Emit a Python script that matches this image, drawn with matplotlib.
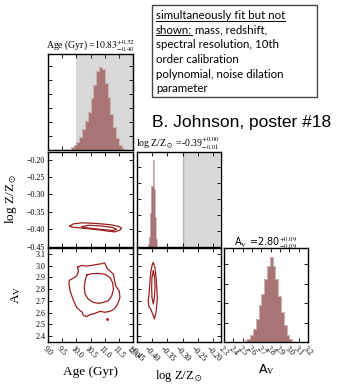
import numpy as np
import matplotlib
matplotlib.use("Agg")
import matplotlib.pyplot as plt
from matplotlib.ticker import MultipleLocator
from matplotlib.lines import Line2D
from matplotlib.patches import Rectangle

plt.rcParams['font.family'] = 'serif'
plt.rcParams['font.serif'] = ['Liberation Serif', 'DejaVu Serif']
plt.rcParams['mathtext.fontset'] = 'stix'

# ---------------- data ----------------
# marginal of Age (Gyr), peak normalised
age_edges = [9.4, 9.5, 9.6, 9.7, 9.8, 9.9, 10.0, 10.1, 10.2, 10.3, 10.4, 10.5, 10.6,
             10.7, 10.8, 10.9, 11.0, 11.1, 11.2, 11.3, 11.4, 11.5, 11.6, 11.7, 11.8]
age_hist = [0.006, 0.012, 0.017, 0.023, 0.047, 0.07, 0.105, 0.163, 0.256, 0.349, 0.465,
            0.628, 0.791, 0.953, 1.0, 0.977, 0.814, 0.64, 0.442, 0.279, 0.151, 0.07,
            0.035, 0.012]

# marginal of log Z/Zsun
logz_edges = [-0.414, -0.410, -0.406, -0.402, -0.398, -0.394, -0.390, -0.386, -0.382]
logz_hist = [0.03, 0.11, 0.39, 0.70, 1.0, 0.67, 0.34, 0.09]

# marginal of A_V
av_edges = [2.52, 2.55, 2.58, 2.61, 2.64, 2.67, 2.70, 2.73, 2.76, 2.79, 2.82, 2.85,
            2.88, 2.91, 2.94, 2.97, 3.00, 3.03, 3.06]
av_hist = [0.02, 0.03, 0.08, 0.15, 0.27, 0.43, 0.56, 0.74, 0.89, 1.0, 0.89, 0.74,
           0.54, 0.35, 0.2, 0.08, 0.03, 0.01]

# shaded prior regions
age_shade = (10.0, 12.0)
logz_shade = (-0.30, -0.177)

# contours: age vs log Z
az_outer_age = [9.777, 9.894, 10.19, 10.54, 10.89, 11.25, 11.48, 11.60, 11.54, 11.36,
                11.13, 10.78, 10.42, 10.07, 9.84, 9.777]
az_outer_z = [-0.391, -0.385, -0.382, -0.383, -0.385, -0.388, -0.392, -0.397, -0.403,
              -0.408, -0.406, -0.402, -0.399, -0.396, -0.394, -0.391]
az_inner_age = [10.19, 10.42, 10.89, 11.25, 11.42, 11.31, 11.01, 10.66, 10.31, 10.19]
az_inner_z = [-0.393, -0.389, -0.391, -0.395, -0.400, -0.404, -0.402, -0.399, -0.396,
              -0.393]

# contours: age vs A_V
aa_outer_age = [10.05, 10.19, 10.37, 10.54, 10.72, 10.89, 10.99, 11.04, 11.07, 11.19,
                11.31, 11.34, 11.39, 11.51, 11.54, 11.46, 11.34, 11.19, 11.01, 10.84,
                10.66, 10.48, 10.37, 10.25, 10.21, 10.13, 10.01, 9.93, 9.86, 9.78,
                9.74, 9.75, 9.89, 10.01, 10.07, 10.05]
aa_outer_av = [2.988, 3.002, 2.996, 3.002, 3.010, 3.016, 3.024, 3.005, 2.982, 2.954,
               2.926, 2.884, 2.827, 2.785, 2.729, 2.673, 2.631, 2.611, 2.603, 2.611,
               2.594, 2.583, 2.566, 2.575, 2.603, 2.617, 2.645, 2.687, 2.729, 2.785,
               2.842, 2.875, 2.892, 2.912, 2.948, 2.988]
aa_inner_age = [10.37, 10.54, 10.78, 11.01, 11.19, 11.28, 11.31, 11.25, 11.13, 10.95,
                10.78, 10.60, 10.42, 10.31, 10.28, 10.31, 10.37]
aa_inner_av = [2.920, 2.931, 2.934, 2.926, 2.898, 2.856, 2.799, 2.743, 2.701, 2.687,
               2.679, 2.687, 2.715, 2.757, 2.813, 2.870, 2.920]
aa_dot = (11.07, 2.546)

# contours: log Z vs A_V
za_outer_z = [-0.3953, -0.3898, -0.3865, -0.3843, -0.3821, -0.3843, -0.3865, -0.392,
              -0.3975, -0.404, -0.4095, -0.4117, -0.4084, -0.4062, -0.403, -0.3986,
              -0.3953]
za_outer_av = [3.024, 2.982, 2.898, 2.813, 2.729, 2.659, 2.603, 2.547, 2.589, 2.631,
               2.650, 2.701, 2.785, 2.869, 2.954, 3.010, 3.024]
za_inner_z = [-0.3953, -0.3909, -0.3898, -0.392, -0.3953, -0.3997, -0.4008, -0.3997,
              -0.3953]
za_inner_av = [2.954, 2.898, 2.813, 2.729, 2.673, 2.729, 2.813, 2.898, 2.954]

titles = [r"Age (Gyr) =$10.83^{+0.32}_{-0.40}$",
          r"log Z/Z$_\odot$ =-0.39$^{+0.00}_{-0.01}$",
          r"A$_{\rm V}$ =2.80$^{+0.09}_{-0.09}$"]
note_lines = ["simultaneously fit but not", "shown:", "spectral resolution, 10th",
              "order calibration", "polynomial, noise dilation", "parameter"]
note_line2_rest = " mass, redshift,"
banner = "B. Johnson, poster #18"

# ---------------- layout ----------------
W, H = 362.0, 384.0
fig = plt.figure(figsize=(W / 100, H / 100), dpi=100)


def rect(x0, x1, y0, y1):
    return [x0 / W, 1 - y1 / H, (x1 - x0) / W, (y1 - y0) / H]


FILL = '#a87474'
EDGE = '#cbb3b3'
LINE = '#9a1f1f'
SHADE = '#d9d9d9'

age_lim = (9.0, 12.0)
z_lim = (-0.45, -0.177)
av_lim = (2.35, 3.15)
avh_lim = (2.3, 3.2)


def style(ax):
    ax.tick_params(direction='in', top=True, right=True, length=3, width=0.6,
                   labelsize=5.8, pad=2)
    for s in ax.spines.values():
        s.set_linewidth(1.0)


ax1 = fig.add_axes(rect(48, 133, 54, 150.5))
ax2 = fig.add_axes(rect(48, 133, 151.5, 246.5))
ax3 = fig.add_axes(rect(48, 133, 248, 342))
ax4 = fig.add_axes(rect(136.5, 220.5, 151.5, 246.5))
ax5 = fig.add_axes(rect(136.5, 220.5, 248, 342))
ax6 = fig.add_axes(rect(224, 308, 248, 342))
for a in (ax1, ax2, ax3, ax4, ax5, ax6):
    style(a)

# age marginal
ax1.axvspan(*age_shade, color=SHADE, lw=0, zorder=0)
ax1.stairs(age_hist, age_edges, fill=True, color=FILL, zorder=2)
ax1.stairs(age_hist, age_edges, color=EDGE, lw=0.8, zorder=3)
ax1.set_xlim(age_lim)
ax1.set_ylim(0, 1.16)
ax1.xaxis.set_major_locator(MultipleLocator(0.5))
ax1.yaxis.set_major_locator(MultipleLocator(0.17))
ax1.tick_params(labelbottom=False, labelleft=False)
ax1.set_title(titles[0], fontsize=7, pad=2)

# logZ marginal
ax4.axvspan(*logz_shade, color=SHADE, lw=0, zorder=0)
ax4.axvline(logz_shade[0], color='#b5b5b5', lw=1, zorder=1)
ax4.stairs(logz_hist, logz_edges, fill=True, color=FILL, zorder=2)
ax4.stairs(logz_hist, logz_edges, color=EDGE, lw=0.6, zorder=3)
ax4.set_xlim(z_lim)
ax4.set_ylim(0, 1.1)
ax4.xaxis.set_major_locator(MultipleLocator(0.05))
ax4.yaxis.set_major_locator(MultipleLocator(0.184))
ax4.tick_params(labelbottom=False, labelleft=False)
ax4.set_title(titles[1], fontsize=7, pad=2)

# A_V marginal
ax6.stairs(av_hist, av_edges, fill=True, color=FILL, zorder=2)
ax6.stairs(av_hist, av_edges, color=EDGE, lw=0.8, zorder=3)
ax6.set_xlim(avh_lim)
ax6.set_ylim(0, 1.1)
ax6.xaxis.set_major_locator(MultipleLocator(0.1))
ax6.yaxis.set_major_locator(MultipleLocator(0.228))
ax6.tick_params(labelleft=False)
ax6.tick_params(axis='x', labelrotation=-45)
ax6.set_title(titles[2], fontsize=7, pad=2, family='DejaVu Sans')
ax6.set_xlabel(r"A$_{\rm V}$", fontsize=9, family='DejaVu Sans')
ax6.xaxis.set_label_coords(0.5, -0.21)

# age vs logZ
ax2.plot(az_outer_age, az_outer_z, color=LINE, lw=0.9)
ax2.plot(az_inner_age, az_inner_z, color=LINE, lw=0.9)
ax2.set_xlim(age_lim)
ax2.set_ylim(z_lim)
ax2.xaxis.set_major_locator(MultipleLocator(0.5))
ax2.yaxis.set_major_locator(MultipleLocator(0.05))
ax2.tick_params(labelbottom=False)
ax2.set_ylabel(r"log Z/Z$_\odot$", fontsize=9.5)
ax2.yaxis.set_label_coords(-0.34, 0.5)

# age vs A_V
ax3.plot(aa_outer_age, aa_outer_av, color=LINE, lw=0.9)
ax3.plot(aa_inner_age, aa_inner_av, color=LINE, lw=0.9)
ax3.plot([aa_dot[0]], [aa_dot[1]], 'o', color=LINE, ms=1.0)
ax3.set_xlim(age_lim)
ax3.set_ylim(av_lim)
ax3.xaxis.set_major_locator(MultipleLocator(0.5))
ax3.yaxis.set_major_locator(MultipleLocator(0.1))
ax3.tick_params(axis='x', labelrotation=-45)
ax3.set_xlabel("Age (Gyr)", fontsize=9.5)
ax3.xaxis.set_label_coords(0.5, -0.255)
ax3.set_ylabel(r"A$_{\rm V}$", fontsize=9.5)
ax3.yaxis.set_label_coords(-0.29, 0.5)

# logZ vs A_V
ax5.plot(za_outer_z, za_outer_av, color=LINE, lw=0.9)
ax5.plot(za_inner_z, za_inner_av, color=LINE, lw=0.9)
ax5.set_xlim(z_lim)
ax5.set_ylim(av_lim)
ax5.xaxis.set_major_locator(MultipleLocator(0.05))
ax5.yaxis.set_major_locator(MultipleLocator(0.1))
ax5.tick_params(labelleft=False)
ax5.tick_params(axis='x', labelrotation=-45)
ax5.set_xlabel(r"log Z/Z$_\odot$", fontsize=9)
ax5.xaxis.set_label_coords(0.5, -0.28)

# note box and banner
fig.add_artist(Rectangle((152 / W, 1 - 96.7 / H), (316.7 - 152) / W, (96.7 - 5) / H,
                         transform=fig.transFigure, fill=False, ec='#444444', lw=1))
baselines = [19, 33.7, 48.4, 63.1, 77.8, 92.5]
note_txt = []
for s, yb in zip(note_lines, baselines):
    note_txt.append(fig.text(156 / W, 1 - yb / H, s, fontsize=8.3, family='Lato',
                             va='baseline', ha='left'))
fig.text(152 / W, 1 - 127 / H, banner, fontsize=12.5, family='Liberation Sans',
         va='baseline', ha='left')

fig.canvas.draw()
r = fig.canvas.get_renderer()
fw, fh = fig.bbox.width, fig.bbox.height
bb2 = note_txt[1].get_window_extent(r)
fig.text(bb2.x1 / fw, 1 - baselines[1] / H, note_line2_rest, fontsize=8.3, family='Lato',
         va='baseline', ha='left')
for i in (0, 1):
    bb = note_txt[i].get_window_extent(r)
    yu = 1 - (baselines[i] + 1.6) / H
    fig.add_artist(Line2D([bb.x0 / fw, bb.x1 / fw], [yu, yu], transform=fig.transFigure,
                          color='k', lw=0.7))

fig.savefig("out.png", dpi=100)
